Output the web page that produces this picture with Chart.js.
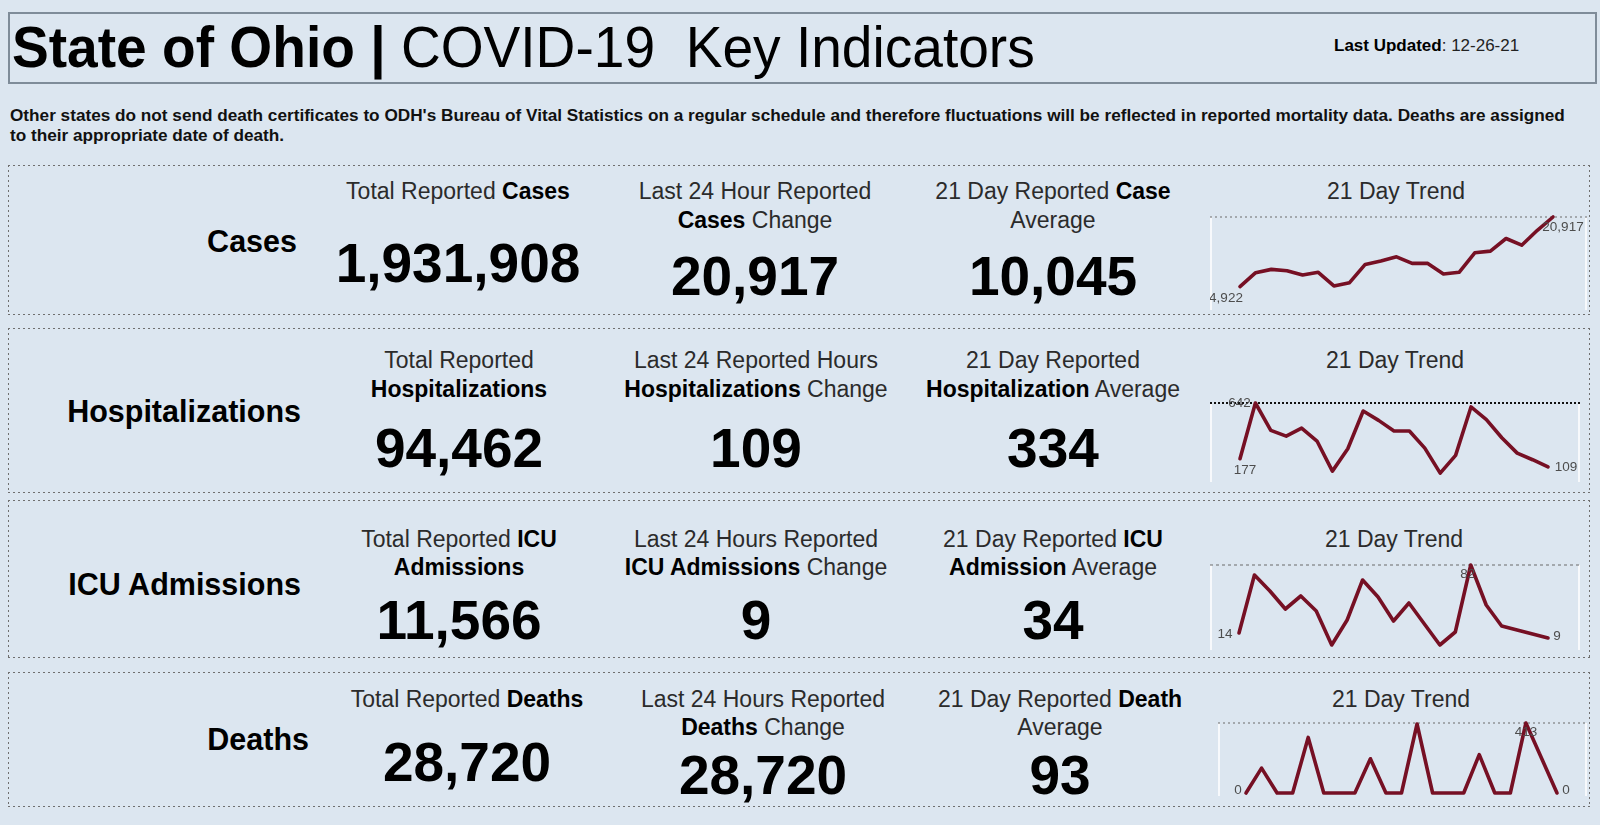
<!DOCTYPE html>
<html>
<head>
<meta charset="utf-8">
<script src="https://cdn.jsdelivr.net/npm/chart.js@4.4.1/dist/chart.umd.min.js"></script>
<style>
  html, body { margin: 0; padding: 0; }
  body {
    width: 1600px; height: 825px; overflow: hidden; position: relative;
    background: #dce6f0; font-family: "Liberation Sans", Arial, sans-serif; color: #000;
  }
  .abs { position: absolute; white-space: pre; }
  .titlebox { position: absolute; left: 8px; top: 12px; width: 1585px; height: 68px; border: 2px solid #7f8c99; }
  .sec {
    position: absolute; left: 8px; width: 1582px;
    background-image:
      linear-gradient(to right, #6f6f6f 35%, rgba(0,0,0,0) 0%),
      linear-gradient(to right, #6f6f6f 35%, rgba(0,0,0,0) 0%),
      linear-gradient(to bottom, #6f6f6f 35%, rgba(0,0,0,0) 0%),
      linear-gradient(to bottom, #6f6f6f 35%, rgba(0,0,0,0) 0%);
    background-position: top left, bottom left, top left, top right;
    background-size: 5px 1px, 5px 1px, 1px 5px, 1px 5px;
    background-repeat: repeat-x, repeat-x, repeat-y, repeat-y;
  }
  .hd { font-size: 23px; color: #2b2b2b; text-align: center; }
  .hd b { color: #000; }
  .big { font-size: 55px; font-weight: bold; text-align: center; }
  .rowname { font-size: 30.5px; font-weight: bold; text-align: right; }
  .note { font-size: 17.2px; font-weight: bold; line-height: 19.5px; color: #111; }
  .spark { position: absolute; }
</style>
</head>
<body>
<div class="titlebox"></div>
<div class="abs" id="title" style="left:12px; top:18px; font-size:58px; line-height:58px; transform:scaleX(0.95); transform-origin:left;"><b>State of Ohio |</b> COVID-19  Key Indicators</div>
<div class="abs" style="left:1334px; top:35px; font-size:17px; line-height:22px; color:#222;"><b style="color:#000">Last Updated</b>: 12-26-21</div>
<div class="abs note" style="left:10px; top:106px;">Other states do not send death certificates to ODH's Bureau of Vital Statistics on a regular schedule and therefore fluctuations will be reflected in reported mortality data. Deaths are assigned
to their appropriate date of death.</div>

<script>
// --- DATA ---
const rowNames = ["Cases", "Hospitalizations", "ICU Admissions", "Deaths"];
const totalReported = ["1,931,908", "94,462", "11,566", "28,720"];
const last24Change = ["20,917", "109", "9", "28,720"];
const avg21Day = ["10,045", "334", "34", "93"];

// column headings, one list of lines per row
const totalHeads = [
    ["Total Reported <b>Cases</b>"],
    ["Total Reported", "<b>Hospitalizations</b>"],
    ["Total Reported <b>ICU</b>", "<b>Admissions</b>"],
    ["Total Reported <b>Deaths</b>"]
];
const changeHeads = [
    ["Last 24 Hour Reported", "<b>Cases</b> Change"],
    ["Last 24 Reported Hours", "<b>Hospitalizations</b> Change"],
    ["Last 24 Hours Reported", "<b>ICU Admissions</b> Change"],
    ["Last 24 Hours Reported", "<b>Deaths</b> Change"]
];
const avgHeads = [
    ["21 Day Reported <b>Case</b>", "Average"],
    ["21 Day Reported", "<b>Hospitalization</b> Average"],
    ["21 Day Reported <b>ICU</b>", "<b>Admission</b> Average"],
    ["21 Day Reported <b>Death</b>", "Average"]
];
const trendTitle = "21 Day Trend";

// 21 day trend (12-05-21 .. 12-25-21)
const trendDays = ["12-05", "12-06", "12-07", "12-08", "12-09", "12-10", "12-11",
                   "12-12", "12-13", "12-14", "12-15", "12-16", "12-17", "12-18",
                   "12-19", "12-20", "12-21", "12-22", "12-23", "12-24", "12-25"];
const casesTrend = [4922, 8120, 8880, 8580, 7590, 8200, 5070, 5830, 10020, 10780, 11770,
                    10250, 10250, 7820, 8200, 12690, 13070, 15970, 14440, 17870, 20917];
const hospTrend = [177, 642, 414, 366, 433, 325, 74, 261, 575, 497, 408,
                   408, 266, 57, 205, 609, 503, 352, 224, 169, 109];
const icuTrend = [14, 72, 56, 38, 51, 36, 2, 27, 67, 50, 26,
                  44, 23, 2, 15, 82, 42, 21, 17, 13, 9];
const deathTrend = [0, 147, 0, 0, 328, 0, 0, 0, 202, 0, 0,
                    407, 0, 0, 0, 226, 0, 0, 413, 207, 0];

// --- LAYOUT ---
const rows = [
    { box: [165, 315], nameY: 241, nameR: 297, head: [191, 220], num: [263, 276, 276],
      cols: [458, 755, 1053, 1396], chart: [1210, 205, 377, 105], pad: { left: 30, right: 34, top: 12, bottom: 2 },
      data: casesTrend, line: { color: "#6b6b6b", width: 1, dash: [2, 3] },
      lbl: { first: [-14, 12], last: [10, 10], max: null } },
    { box: [328, 493], nameY: 411, nameR: 301, head: [360, 389], num: [448, 448, 448],
      cols: [459, 756, 1053, 1395], chart: [1210, 385, 370, 97], pad: { left: 30, right: 32, top: 18, bottom: 2 },
      data: hospTrend, line: { color: "#111", width: 2, dash: [2, 2] },
      lbl: { first: [5, 12], last: [18, 0], max: [-16, 0] } },
    { box: [500, 658], nameY: 584, nameR: 301, head: [539, 567], num: [620, 620, 620],
      cols: [459, 756, 1053, 1394], chart: [1210, 555, 370, 95], pad: { left: 29, right: 32, top: 10, bottom: 3 },
      data: icuTrend, line: { color: "#6b6b6b", width: 1, dash: [3, 3] },
      lbl: { first: [-14, 1], last: [9, -2], max: [-3, 9] } },
    { box: [672, 807], nameY: 739, nameR: 309, head: [699, 727], num: [762, 775, 775],
      cols: [467, 763, 1060, 1401], chart: [1218, 713, 369, 83], pad: { left: 28, right: 30, top: 10, bottom: 3 },
      data: deathTrend, line: { color: "#6b6b6b", width: 1, dash: [2, 3] },
      lbl: { first: [-8, -3], last: [9, -3], max: [0, 9] } }
];

function addText(cls, html, cx, cy, size, extra) {
    const d = document.createElement("div");
    d.className = "abs " + cls;
    d.innerHTML = html;
    const lh = Math.round(size * 1.2);
    d.style.lineHeight = lh + "px";
    d.style.top = (cy - lh / 2) + "px";
    d.style.left = (cx - 300) + "px";
    d.style.width = "600px";
    if (extra) Object.assign(d.style, extra);
    document.body.appendChild(d);
    return d;
}

// value labels + max reference line on the sparkline
const trendMarks = {
    id: "trendMarks",
    beforeDatasetsDraw(chart, args, opts) {
        const { ctx, scales: { y } } = chart;
        const vals = chart.data.datasets[0].data;
        const yMax = y.getPixelForValue(Math.max(...vals));
        ctx.save();
        // white edges of the plot box
        ctx.strokeStyle = "#ffffff";
        ctx.lineWidth = 1.5;
        ctx.beginPath();
        ctx.moveTo(1, yMax); ctx.lineTo(1, chart.height);
        ctx.moveTo(chart.width - 1, yMax); ctx.lineTo(chart.width - 1, chart.height);
        ctx.stroke();
        // max line
        ctx.strokeStyle = opts.line.color;
        ctx.lineWidth = opts.line.width;
        ctx.setLineDash(opts.line.dash);
        ctx.beginPath();
        ctx.moveTo(0, yMax); ctx.lineTo(chart.width, yMax);
        ctx.stroke();
        ctx.restore();
    },
    afterDatasetsDraw(chart, args, opts) {
        const { ctx } = chart;
        const vals = chart.data.datasets[0].data;
        const pts = chart.getDatasetMeta(0).data;
        const last = vals.length - 1;
        let maxIdx = 0;
        vals.forEach((v, i) => { if (v > vals[maxIdx]) maxIdx = i; });
        const marks = [[0, opts.lbl.first], [last, opts.lbl.last]];
        if (opts.lbl.max && maxIdx !== last && maxIdx !== 0) marks.push([maxIdx, opts.lbl.max]);
        ctx.save();
        ctx.font = "13.5px 'Liberation Sans', Arial, sans-serif";
        ctx.fillStyle = "#4d4d4d";
        ctx.textAlign = "center";
        ctx.textBaseline = "middle";
        marks.forEach(([i, off]) => {
            ctx.fillText(vals[i].toLocaleString("en-US"), pts[i].x + off[0], pts[i].y + off[1]);
        });
        ctx.restore();
    }
};

rows.forEach((r, i) => {
    const sec = document.createElement("div");
    sec.className = "sec";
    sec.style.top = r.box[0] + "px";
    sec.style.height = (r.box[1] - r.box[0]) + "px";
    document.body.appendChild(sec);

    addText("rowname", rowNames[i], r.nameR - 300, r.nameY, 30.5);

    [totalHeads[i], changeHeads[i], avgHeads[i]].forEach((lines, c) => {
        lines.forEach((ln, k) => addText("hd", ln, r.cols[c], r.head[k], 23));
    });
    addText("hd", trendTitle, r.cols[3], r.head[0], 23);

    [totalReported[i], last24Change[i], avg21Day[i]].forEach((v, c) => {
        addText("big", v, r.cols[c], r.num[c], 55);
    });

    const wrap = document.createElement("div");
    wrap.className = "spark";
    wrap.style.left = r.chart[0] + "px";
    wrap.style.top = r.chart[1] + "px";
    wrap.style.width = r.chart[2] + "px";
    wrap.style.height = r.chart[3] + "px";
    const cv = document.createElement("canvas");
    wrap.appendChild(cv);
    document.body.appendChild(wrap);

    new Chart(cv.getContext("2d"), {
        type: "line",
        data: {
            labels: trendDays,
            datasets: [{ data: r.data, borderColor: "#761024", borderWidth: 3.6, pointRadius: 0,
                         tension: 0, fill: false, clip: false, borderJoinStyle: "round", borderCapStyle: "round" }]
        },
        options: {
            responsive: true, maintainAspectRatio: false, animation: false,
            layout: { padding: r.pad },
            scales: {
                x: { display: false, offset: false },
                y: { display: false, min: 0, max: Math.max(...r.data) }
            },
            plugins: { legend: { display: false }, tooltip: { enabled: false },
                       trendMarks: { line: r.line, lbl: r.lbl } }
        },
        plugins: [trendMarks]
    });
});
</script>
</body>
</html>
